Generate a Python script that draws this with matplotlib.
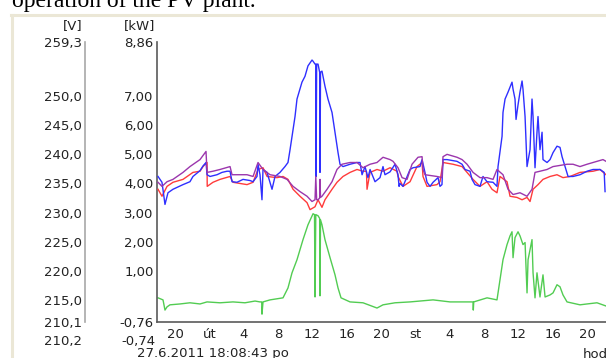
import matplotlib
matplotlib.use("Agg")
from matplotlib import pyplot as plt
from matplotlib.lines import Line2D

DPI = 100
W, H = 606, 358

# hours counted from Monday 27.6.2011 0:00
hour_ticks = [20, 24, 28, 32, 36, 40, 44, 48, 52, 56, 60, 64, 68]
hour_labels = ["20", "út", "4", "8", "12", "16", "20", "st", "4", "8", "12", "16", "20"]

kw_ticks = [8.86, 7, 6, 5, 4, 3, 2, 1, -0.76]
kw_labels = ["8,86", "7,00", "6,00", "5,00", "4,00", "3,00", "2,00", "1,00", "-0,76"]
v_ticks = [259.3, 250, 245, 240, 235, 230, 225, 220, 215, 211.2]
v_labels = ["259,3", "250,0", "245,0", "240,0", "235,0", "230,0", "225,0", "220,0", "215,0", "210,1"]

# PV power [kW]
green_t = [18.02, 18.60, 18.83, 19.07, 19.41, 20.58, 21.74, 22.91, 23.73, 25.24, 26.75, 28.15,
           29.32, 29.90, 30.10, 30.13, 30.25, 31.07, 32.58, 33.16, 33.63, 34.21, 34.91, 35.49,
           36.08, 36.25, 36.31, 36.40, 36.66, 36.85, 36.89, 36.95, 37.12, 37.47, 38.06, 38.64,
           38.99, 39.34, 40.39, 41.90, 43.53, 44.23, 45.63, 47.38, 50.06, 52.04, 54.72, 54.75,
           54.80, 56.35, 57.51, 57.86, 58.21, 58.68, 59.03, 59.26, 59.38, 59.61, 59.96, 60.19,
           60.54, 60.78, 61.01, 61.13, 61.59, 61.71, 61.94, 62.17, 62.52, 62.87, 63.11, 63.69,
           64.04, 64.50, 64.85, 65.20, 65.67, 67.18, 68.00, 69.16, 70.21]
green_kw = [0.07, 0.00, -0.35, -0.24, -0.17, -0.14, -0.10, -0.14, -0.07, -0.10, -0.07, -0.10,
            -0.04, -0.07, -0.07, -0.49, -0.07, 0.00, 0.07, 0.41, 0.93, 1.38, 2.07, 2.58,
            2.96, 2.93, 0.10, 2.93, 2.89, 2.80, 0.14, 2.75, 2.58, 2.07, 1.45, 0.86,
            0.41, 0.07, -0.07, -0.10, -0.28, -0.17, -0.10, -0.07, 0.00, -0.07, -0.07, -0.35,
            -0.07, 0.07, 0.00, 0.69, 1.38, 1.90, 2.20, 2.34, 1.45, 2.14, 2.34, 2.20,
            1.90, 1.97, 0.24, 1.38, 2.07, 0.93, 0.07, 0.93, 0.10, 0.86, 0.10, 0.17,
            0.24, 0.52, 0.45, 0.17, -0.07, -0.17, -0.14, -0.10, -0.21]

# phase voltages [V]
blue_t = [18.02, 18.48, 18.83, 19.18, 19.76, 20.93, 21.74, 22.09, 22.91, 23.26, 23.61, 23.73,
          24.08, 24.89, 25.47, 26.06, 26.41, 26.64, 27.22, 27.92, 28.74, 29.09, 29.55, 29.67,
          29.90, 30.13, 30.25, 30.72, 31.30, 31.65, 32.23, 32.81, 33.16, 33.40, 33.63, 33.98,
          34.21, 34.79, 35.14, 35.49, 35.96, 36.08, 36.31, 36.40, 36.43, 36.50, 36.66, 36.85,
          36.89, 36.95, 37.12, 37.47, 37.82, 38.29, 38.64, 38.99, 39.22, 39.57, 40.39, 41.20,
          41.55, 41.79, 42.13, 42.48, 42.72, 43.30, 43.88, 44.23, 44.46, 45.05, 45.63, 45.98,
          46.10, 46.21, 46.56, 47.38, 47.73, 48.54, 48.78, 49.12, 49.36, 49.71, 50.06, 50.64,
          50.87, 51.10, 51.22, 51.69, 52.85, 53.44, 53.79, 54.37, 54.60, 54.95, 55.53, 55.88,
          56.35, 57.05, 57.51, 57.63, 58.10, 58.21, 58.45, 58.80, 59.26, 59.38, 59.61, 59.73,
          59.96, 60.19, 60.43, 60.54, 60.78, 61.01, 61.36, 61.59, 61.71, 61.94, 62.17, 62.29,
          62.52, 62.76, 62.87, 63.34, 63.69, 64.04, 64.50, 64.85, 65.09, 65.44, 65.79, 66.37,
          67.18, 68.00, 68.70, 69.51, 70.00, 70.10]
blue_v = [236.2, 235.2, 231.4, 233.4, 234.0, 234.8, 235.3, 236.2, 237.2, 238.0, 238.6, 236.5,
          236.2, 236.5, 236.9, 237.1, 237.1, 235.3, 235.2, 235.7, 235.5, 235.3, 236.2, 238.3,
          236.5, 232.2, 237.4, 236.9, 234.0, 236.2, 236.9, 237.9, 238.6, 240.8, 243.1, 246.5,
          249.5, 252.4, 253.4, 255.2, 256.2, 256.0, 255.5, 255.5, 236.2, 255.5, 255.5, 254.1,
          236.9, 254.1, 254.3, 251.7, 249.5, 247.2, 243.8, 240.3, 238.3, 237.9, 238.3, 238.6,
          238.6, 236.5, 237.9, 236.0, 237.4, 235.3, 236.0, 237.9, 236.5, 237.0, 238.3, 236.5,
          234.5, 235.0, 234.5, 237.4, 237.7, 237.9, 239.1, 236.9, 235.2, 234.5, 235.2, 236.0,
          234.5, 234.8, 239.1, 239.1, 238.8, 238.3, 237.4, 237.1, 235.7, 234.8, 234.5, 236.2,
          235.3, 235.2, 234.5, 237.9, 243.1, 247.2, 249.5, 250.7, 252.4, 251.2, 249.5, 246.0,
          248.5, 250.7, 252.6, 251.2, 246.5, 237.9, 240.8, 249.5, 246.5, 237.7, 243.8, 246.5,
          240.8, 243.8, 239.1, 238.6, 239.1, 240.3, 241.4, 241.2, 239.6, 237.9, 236.2, 236.2,
          236.5, 237.1, 237.4, 237.4, 236.9, 233.6]

red_t = [18.02, 18.48, 19.07, 19.76, 20.93, 22.09, 22.91, 23.26, 23.73, 23.75, 24.42, 25.24,
         26.41, 26.75, 28.39, 29.09, 29.67, 30.25, 30.72, 31.88, 32.58, 33.16, 33.75, 34.56,
         35.38, 35.73, 36.31, 36.66, 37.12, 37.47, 38.29, 38.87, 39.57, 40.39, 41.20, 41.90,
         42.30, 42.37, 42.72, 43.53, 44.23, 45.05, 45.86, 45.98, 46.56, 47.38, 48.19, 48.78,
         48.89, 49.36, 50.52, 50.87, 51.22, 52.39, 53.44, 54.02, 54.72, 55.53, 56.35, 56.93,
         57.51, 57.86, 58.68, 59.03, 59.84, 60.43, 61.01, 61.36, 61.71, 62.29, 62.87, 63.69,
         64.50, 65.20, 66.02, 67.18, 68.70, 69.51, 70.21]
red_v = [234.0, 232.8, 234.5, 235.2, 235.7, 236.9, 237.1, 237.9, 238.6, 234.5, 235.2, 235.7,
         236.2, 235.2, 234.8, 235.2, 237.4, 237.7, 236.2, 236.0, 236.2, 235.7, 234.0, 232.8,
         231.7, 230.5, 231.0, 232.2, 230.9, 232.2, 234.0, 235.2, 236.2, 236.9, 237.4, 237.1,
         237.1, 234.0, 236.9, 237.4, 237.1, 237.7, 237.1, 236.2, 234.5, 235.3, 237.9, 238.6,
         236.2, 234.5, 234.8, 235.3, 238.6, 238.3, 237.9, 236.9, 235.7, 234.5, 235.3, 234.0,
         233.4, 236.2, 235.3, 232.8, 232.6, 232.2, 232.6, 231.9, 234.0, 234.8, 235.7, 236.2,
         236.5, 236.0, 236.2, 236.9, 237.1, 237.4, 236.5]

purple_t = [18.02, 18.48, 19.07, 19.76, 20.93, 21.74, 22.91, 23.61, 23.73, 24.42, 25.24, 26.41,
            26.64, 28.39, 29.09, 29.67, 30.25, 31.07, 32.23, 33.05, 33.75, 34.56, 35.38, 35.96,
            36.31, 36.40, 36.50, 36.66, 36.85, 36.89, 36.95, 37.12, 37.71, 38.29, 38.87, 39.45,
            40.39, 41.20, 41.90, 42.72, 43.53, 44.23, 45.05, 45.40, 45.98, 46.45, 47.03, 47.61,
            48.31, 48.78, 48.89, 49.12, 50.52, 51.10, 51.22, 51.69, 52.85, 53.44, 54.02, 54.72,
            55.53, 56.35, 57.05, 57.51, 58.21, 58.80, 59.38, 60.19, 61.01, 61.59, 61.94, 62.52,
            63.34, 64.04, 65.67, 66.37, 67.18, 68.00, 69.16, 69.86, 70.21]
purple_v = [235.2, 234.5, 235.3, 235.7, 236.9, 237.9, 239.1, 240.5, 236.9, 237.1, 237.4, 237.9,
            236.5, 236.5, 236.2, 238.6, 237.4, 236.5, 236.2, 235.7, 234.5, 233.6, 232.8, 231.9,
            232.2, 236.2, 232.2, 232.2, 232.5, 235.7, 232.6, 232.8, 234.0, 235.3, 237.4, 238.3,
            238.6, 238.6, 237.7, 238.3, 238.6, 239.5, 239.1, 238.8, 237.7, 236.0, 235.7, 238.3,
            239.5, 239.6, 237.4, 236.5, 236.2, 236.0, 239.6, 240.0, 239.5, 239.1, 238.3, 236.9,
            236.0, 236.0, 235.7, 237.4, 236.5, 234.0, 233.1, 233.4, 232.8, 234.0, 236.9, 237.1,
            237.4, 237.9, 238.3, 238.3, 237.9, 238.3, 238.8, 239.1, 238.8]

TEXT = "#222222"
FONT = "DejaVu Sans"
FS = 9.5

plt.rcParams["font.family"] = FONT

fig = plt.figure(figsize=(W / DPI, H / DPI), dpi=DPI)
fig.patch.set_facecolor("white")

# window frame of the screenshot
frame_y = 1 - 14.5 / H
fig.add_artist(Line2D([11 / W, 1], [frame_y, frame_y], color="#ebe7d6", lw=2.2))
fig.add_artist(Line2D([11.5 / W, 11.5 / W], [0, frame_y], color="#ebe7d6", lw=2.2))

# plot area spans pixel rows 42..322
ax = fig.add_axes([157 / W, 36 / H, 449 / W, 280 / H])
ax.set_xlim(17.9, 70.21)
ax.set_ylim(-0.76, 8.86)
ax.set_facecolor("none")

ax2 = ax.twinx()
ax2.set_ylim(211.2, 259.3)

ax2.plot(red_t, red_v, color="#ff3b3b", lw=1.0)
ax2.plot(blue_t, blue_v, color="#2f2fff", lw=1.0)
ax2.plot(purple_t, purple_v, color="#9b36ad", lw=1.0)
ax.plot(green_t, green_kw, color="#52cc52", lw=1.0)

for s in ["top", "right"]:
    ax.spines[s].set_visible(False)
ax.spines["left"].set_color("#5a5a5a")
ax.spines["bottom"].set_color("#5a5a5a")
ax.spines["left"].set_linewidth(1.2)
ax.spines["bottom"].set_linewidth(1.2)

ax.set_yticks(kw_ticks)
ax.set_yticklabels(kw_labels)
ax.set_xticks(hour_ticks)
ax.set_xticklabels(hour_labels)
ax.tick_params(axis="y", length=0, pad=2.5, labelsize=FS, labelcolor=TEXT)
ax.tick_params(axis="x", length=0, pad=4, labelsize=FS, labelcolor=TEXT)

for s in ["top", "right", "bottom"]:
    ax2.spines[s].set_visible(False)
ax2.yaxis.tick_left()
ax2.spines["left"].set_visible(True)
ax2.spines["left"].set_position(("outward", 72 * 72 / DPI))
ax2.spines["left"].set_color("#a8a8a8")
ax2.spines["left"].set_linewidth(1.2)
ax2.set_yticks(v_ticks)
ax2.set_yticklabels(v_labels)
ax2.tick_params(axis="y", length=0, pad=2.5, labelsize=FS, labelcolor=TEXT)

fig.text(82 / W, 1 - 26 / H, "[V]", ha="right", va="center", fontsize=FS, color=TEXT)
fig.text(155 / W, 1 - 26 / H, "[kW]", ha="right", va="center", fontsize=FS, color=TEXT)
fig.text(82 / W, 1 - 342 / H, "210,2", ha="right", va="center", fontsize=FS, color=TEXT)
fig.text(155 / W, 1 - 342 / H, "-0,74", ha="right", va="center", fontsize=FS, color=TEXT)
fig.text(137 / W, 1 - 354 / H, "27.6.2011 18:08:43 po", ha="left", va="center",
         fontsize=FS, color=TEXT)
fig.text(583 / W, 1 - 354 / H, "hod", ha="left", va="center", fontsize=FS, color=TEXT)

fig.text(12 / W, 1 - 6.5 / H, "operation of the PV plant.", ha="left", va="baseline",
         family="Liberation Serif", fontsize=17, color="black")

fig.savefig("out.png", dpi=DPI)
